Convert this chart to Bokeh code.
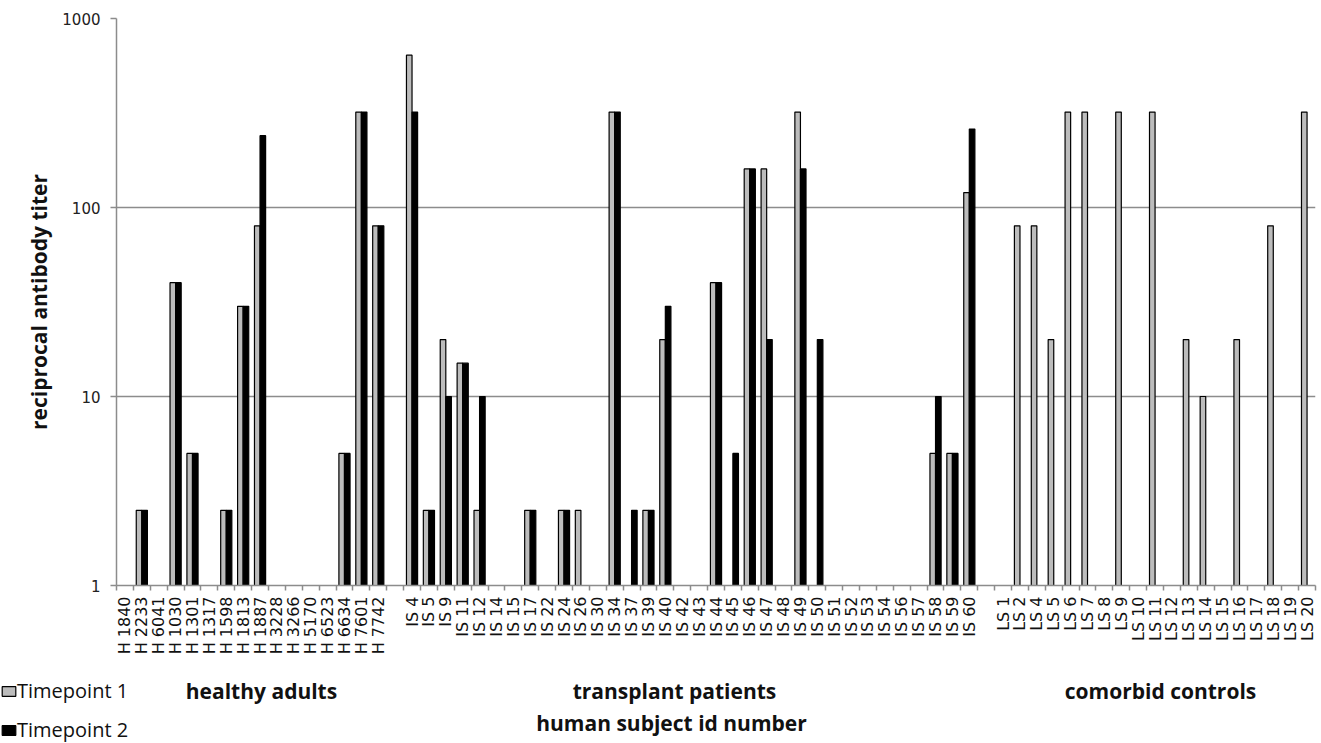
import math

from bokeh.plotting import figure
from bokeh.layouts import column
from bokeh.models import (Range1d, FixedTicker, PrintfTickFormatter, Label,
                          Legend, LegendItem, ColumnDataSource)
from bokeh.embed import file_html
from bokeh.resources import INLINE

# Subject ids per cohort
healthy_ids = ["H 1840", "H 2233", "H 6041", "H 1030", "H 1301", "H 1317", "H 1598",
               "H 1813", "H 1887", "H 3228", "H 3266", "H 5170", "H 6523", "H 6634",
               "H 7601", "H 7742"]
transplant_ids = ["IS 4", "IS 5", "IS 9", "IS 11", "IS 12", "IS 14", "IS 15", "IS 17",
                  "IS 22", "IS 24", "IS 26", "IS 30", "IS 34", "IS 37", "IS 39", "IS 40",
                  "IS 42", "IS 43", "IS 44", "IS 45", "IS 46", "IS 47", "IS 48", "IS 49",
                  "IS 50", "IS 51", "IS 52", "IS 53", "IS 54", "IS 56", "IS 57", "IS 58",
                  "IS 59", "IS 60"]
comorbid_ids = ["LS 1", "LS 2", "LS 4", "LS 5", "LS 6", "LS 7", "LS 8", "LS 9", "LS 10",
                "LS 11", "LS 12", "LS 13", "LS 14", "LS 15", "LS 16", "LS 17", "LS 18",
                "LS 19", "LS 20"]

# Reciprocal antibody titers (None = no detectable titer)
healthy_t1 = [None, 2.5, None, 40, 5, None, 2.5, 30, 80, None, None, None, None, 5, 320, 80]
healthy_t2 = [None, 2.5, None, 40, 5, None, 2.5, 30, 240, None, None, None, None, 5, 320, 80]

transplant_t1 = [640, 2.5, 20, 15, 2.5, None, None, 2.5, None, 2.5, 2.5, None, 320, None,
                 2.5, 20, None, None, 40, None, 160, 160, None, 320, None, None, None,
                 None, None, None, None, 5, 5, 120]
transplant_t2 = [320, 2.5, 10, 15, 10, None, None, 2.5, None, 2.5, None, None, 320, 2.5,
                 2.5, 30, None, None, 40, 5, 160, 20, None, 160, 20, None, None,
                 None, None, None, None, 10, 5, 260]

comorbid_t1 = [None, 80, 80, 20, 320, 320, None, 320, None, 320, None, 20, 10, None, 20,
               None, 80, None, 320]
comorbid_t2 = [None, None, None, None, None, None, None, None, None, None, None, None,
               None, None, None, None, None, None, None]

y_ticks = [1, 10, 100, 1000]

# One empty slot separates the cohorts along the category axis
categories = healthy_ids + [""] + transplant_ids + [""] + comorbid_ids
t1 = healthy_t1 + [None] + transplant_t1 + [None] + comorbid_t1
t2 = healthy_t2 + [None] + transplant_t2 + [None] + comorbid_t2
positions = list(range(len(categories)))

BAR_W = 0.33
GRAY = "#8c8c8c"
T1_STYLE = dict(fill_color="#bcbcbc", line_color="black", line_width=1.2)
T2_STYLE = dict(fill_color="black", line_color="black", line_width=1.2)


def series(vals, shift):
    xs = [i + shift for i, v in zip(positions, vals) if v is not None]
    tops = [v for v in vals if v is not None]
    return ColumnDataSource(dict(x=xs, top=tops))


src1 = series(t1, -BAR_W / 2)
src2 = series(t2, BAR_W / 2)

MAIN_H = 665
FOOT_H = 743 - MAIN_H

p = figure(width=1321, height=MAIN_H, y_axis_type="log",
           x_range=Range1d(-0.5, len(categories) - 0.5), y_range=Range1d(1, 1000),
           output_backend="svg", toolbar_location=None,
           min_border_left=116, min_border_right=6, min_border_top=18,
           min_border_bottom=MAIN_H - 585)
p.frame_align = False
p.outline_line_color = None

p.vbar(x="x", top="top", bottom=1, width=BAR_W, source=src1, **T1_STYLE)
p.vbar(x="x", top="top", bottom=1, width=BAR_W, source=src2, **T2_STYLE)

# y axis
yax = p.yaxis[0]
yax.ticker = FixedTicker(ticks=y_ticks)
yax.formatter = PrintfTickFormatter(format="%d")
yax.axis_line_color = GRAY
yax.axis_line_width = 1.5
yax.major_tick_line_color = GRAY
yax.major_tick_line_width = 1.5
yax.major_tick_out = 6
yax.major_tick_in = 0
yax.minor_tick_line_color = None
yax.major_label_standoff = 10
yax.major_label_text_font = "DejaVu Sans"
yax.major_label_text_font_size = "15px"
yax.major_label_text_color = "#222222"
yax.axis_label = "reciprocal antibody titer"
yax.axis_label_text_font = "Open Sans"
yax.axis_label_text_font_style = "bold"
yax.axis_label_text_font_size = "21px"
yax.axis_label_text_color = "#111111"
yax.axis_label_standoff = 6

p.ygrid.ticker = FixedTicker(ticks=y_ticks)
p.ygrid.grid_line_color = GRAY
p.ygrid.grid_line_width = 1.5
p.xgrid.grid_line_color = None

# x axis: labels at category centres, tick marks between categories
xax = p.xaxis[0]
xax.ticker = FixedTicker(ticks=positions,
                         minor_ticks=[i - 0.5 for i in range(len(categories) + 1)])
xax.major_label_overrides = {i: c for i, c in zip(positions, categories)}
xax.major_label_orientation = math.pi / 2
xax.major_tick_line_color = None
xax.minor_tick_line_color = GRAY
xax.minor_tick_line_width = 1.5
xax.minor_tick_out = 5
xax.minor_tick_in = 0
xax.axis_line_color = GRAY
xax.axis_line_width = 1.5
xax.major_label_standoff = 5
xax.major_label_text_font = "DejaVu Sans"
xax.major_label_text_font_size = "16px"
xax.major_label_text_color = "#111111"

# Footer strip: cohort captions, axis title and the series key
foot = figure(width=1321, height=FOOT_H, x_range=Range1d(0, 1321),
              y_range=Range1d(0, FOOT_H), output_backend="svg",
              toolbar_location=None, min_border=0)
foot.frame_align = False
foot.axis.visible = False
foot.grid.grid_line_color = None
foot.outline_line_color = None


def caption(text, x, y):
    foot.add_layout(Label(x=x, y=y, text=text, text_align="center",
                          text_baseline="middle", text_font="Open Sans",
                          text_font_style="bold", text_font_size="21px",
                          text_color="#111111"))


caption("healthy adults", 261, 53)
caption("transplant patients", 674, 53)
caption("comorbid controls", 1160, 53)
caption("human subject id number", 671, 21)

# key swatches: hidden renderers over the same series, shown only in the key
k1 = foot.rect(x="x", y="top", width=BAR_W, height=1, source=src1, visible=False,
               **T1_STYLE)
k2 = foot.rect(x="x", y="top", width=BAR_W, height=1, source=src2, visible=False,
               **T2_STYLE)
legend = Legend(items=[LegendItem(label="Timepoint 1", renderers=[k1]),
                       LegendItem(label="Timepoint 2", renderers=[k2])],
                location=(0, 0), orientation="vertical",
                glyph_width=17, glyph_height=12, label_height=27, label_standoff=0,
                spacing=12, padding=0, margin=0,
                label_text_font="Open Sans", label_text_font_size="20px",
                label_text_color="#111111", inactive_fill_alpha=0,
                border_line_color=None, background_fill_alpha=0)
foot.add_layout(legend, "center")

open("out.html", "w").write(file_html(column(p, foot, spacing=0), INLINE))
